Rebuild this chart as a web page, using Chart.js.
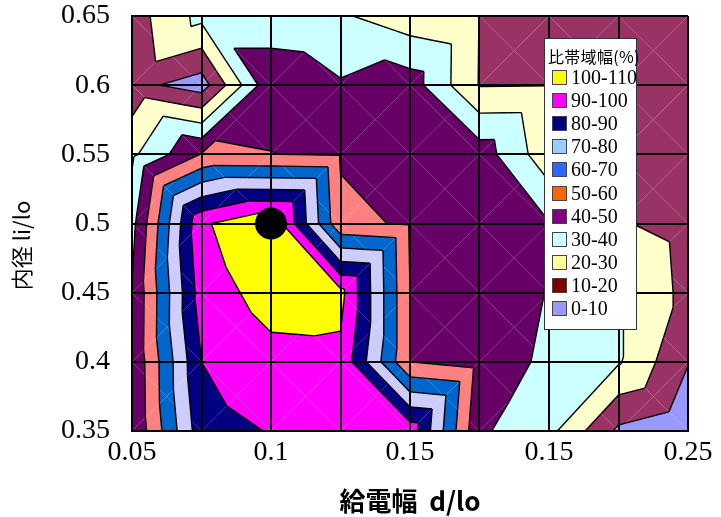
<!DOCTYPE html>
<html lang="ja">
<head>
<meta charset="UTF-8">
<title>比帯域幅 contour</title>
<script src="https://cdn.jsdelivr.net/npm/chart.js@4"></script>
<style>
  html, body { margin: 0; padding: 0; background: #fff; }
  #wrap { position: relative; width: 721px; height: 517px; }
  #legend {
    position: absolute; left: 544px; top: 38px; width: 93px; height: 292px;
    box-sizing: border-box; background: #fff; border: 1px solid #333;
  }
  #legend .ttl {
    position: absolute; left: 3px; top: 5px;
    font-family: "Noto Sans CJK JP", sans-serif; font-size: 16px; letter-spacing: 0.3px; color: #000; white-space: nowrap;
  }
  #legend .row { position: absolute; left: 7px; height: 22px; white-space: nowrap; }
  #legend .sw {
    position: absolute; left: 0; top: 3px; width: 15px; height: 15px;
    box-sizing: border-box; border: 1px solid #444;
  }
  #legend .lb {
    position: absolute; left: 19px; top: -1px;
    font-family: "Liberation Serif", "Times New Roman", serif; font-size: 20px; line-height: 22px; color: #000;
  }
</style>
</head>
<body>
<div id="wrap">
  <canvas id="chart" width="721" height="517"></canvas>
  <div id="legend"><div class="ttl">比帯域幅(%)</div></div>
</div>
<script>
// grid of the surface (d/lo across, li/lo up)
const xValues = [0.05, 0.075, 0.1, 0.125, 0.15, 0.175, 0.2, 0.225, 0.25];
const yValues = [0.35, 0.4, 0.45, 0.5, 0.55, 0.6, 0.65];

// fractional bandwidth (%) at each grid node, one row per li/lo value
const row035 = [40.4, 86, 90.5, 95, 96, 41.5, 33, 8, 2];
const row040 = [41, 90, 97, 97.6, 50, 45.7, 38, 31, 10.5];
const row045 = [40.5, 95, 104, 103, 50, 46, 39.5, 31, 17];
const row050 = [37, 98.5, 109, 52, 49, 46, 40.5, 21, 16];
const row055 = [28, 50.5, 50.1, 49.2, 46, 45.5, 23.4, 18, 15];
const row060 = [13.3, 5, 48, 41, 45, 19.5, 19.8, 15, 15];
const row065 = [15.4, 33, 33, 31.3, 24, 19.8, 15, 14, 14];
const zRows = [row035, row040, row045, row050, row055, row060, row065];

// contour bands
const bandEdges = [0, 10, 20, 30, 40, 50, 60, 70, 80, 90, 100, 110];
const bandLabels = ['0-10', '10-20', '20-30', '30-40', '40-50', '50-60', '60-70', '70-80', '80-90', '90-100', '100-110'];
const mapColors = ['#9999FF', '#993366', '#FFFFCC', '#CCFFFF', '#660066', '#FF8080', '#0066CC', '#CCCCFF', '#000080', '#FF00FF', '#FFFF00'];
const legendColors = ['#9999FF', '#800000', '#FFFF99', '#CCFFFF', '#800080', '#FF6600', '#3366FF', '#99CCFF', '#000080', '#FF00FF', '#FFFF00'];

const xTickLabels = ['0.05', '', '0.1', '', '0.15', '', '0.15', '', '0.25'];
const yTickLabels = ['0.35', '0.4', '0.45', '0.5', '0.55', '0.6', '0.65'];

// design point
const marker = [{ x: 0.1, y: 0.5 }];

// legend box (top row = highest band)
const legendEl = document.getElementById('legend');
for (let k = bandLabels.length - 1; k >= 0; k--) {
  const r = bandLabels.length - 1 - k;
  const row = document.createElement('div');
  row.className = 'row';
  row.style.top = (28 + r * 23.1) + 'px';
  row.innerHTML = '<span class="sw" style="background:' + legendColors[k] + '"></span><span class="lb">' + bandLabels[k] + '</span>';
  legendEl.appendChild(row);
}

// clip a polygon (points carry z) against z >= level or z <= level
function clipPoly(pts, level, keepAbove) {
  const out = [];
  for (let i = 0; i < pts.length; i++) {
    const a = pts[i], b = pts[(i + 1) % pts.length];
    const ina = keepAbove ? a.z >= level : a.z <= level;
    const inb = keepAbove ? b.z >= level : b.z <= level;
    if (ina) out.push(a);
    if (ina !== inb) {
      const t = (level - a.z) / (b.z - a.z);
      out.push({ x: a.x + t * (b.x - a.x), y: a.y + t * (b.y - a.y), z: level });
    }
  }
  return out;
}

// filled contour map, drawn under the grid lines
const contourPlugin = {
  id: 'contour',
  beforeDraw(chart) {
    const ctx = chart.ctx;
    const xs = chart.scales.x, ys = chart.scales.y;
    const node = (i, j) => ({ x: xs.getPixelForValue(xValues[i]), y: ys.getPixelForValue(yValues[j]), z: zRows[j][i] });

    // each cell split in four triangles around its centre
    const tris = [];
    for (let j = 0; j < yValues.length - 1; j++) {
      for (let i = 0; i < xValues.length - 1; i++) {
        const bl = node(i, j), br = node(i + 1, j), tl = node(i, j + 1), tr = node(i + 1, j + 1);
        const zc = Math.max((bl.z + tr.z) / 2, (tl.z + br.z) / 2);
        const c = { x: (bl.x + br.x) / 2, y: (bl.y + tl.y) / 2, z: zc };
        tris.push([bl, br, c], [br, tr, c], [tr, tl, c], [tl, bl, c]);
      }
    }

    ctx.save();
    tris.forEach(t => {
      for (let b = 0; b < mapColors.length; b++) {
        let poly = clipPoly(t, bandEdges[b], true);
        if (poly.length < 3) continue;
        poly = clipPoly(poly, bandEdges[b + 1], false);
        if (poly.length < 3) continue;
        ctx.beginPath();
        poly.forEach((p, k) => k ? ctx.lineTo(p.x, p.y) : ctx.moveTo(p.x, p.y));
        ctx.closePath();
        ctx.fillStyle = mapColors[b];
        ctx.fill();
      }
    });

    // band boundaries
    ctx.strokeStyle = '#000';
    ctx.lineWidth = 1.4;
    ctx.lineJoin = 'round';
    tris.forEach(t => {
      for (let k = 1; k < bandEdges.length - 1; k++) {
        const lv = bandEdges[k];
        const seg = [];
        for (let e = 0; e < 3; e++) {
          const a = t[e], b = t[(e + 1) % 3];
          if ((a.z < lv) !== (b.z < lv)) {
            const f = (lv - a.z) / (b.z - a.z);
            seg.push([a.x + f * (b.x - a.x), a.y + f * (b.y - a.y)]);
          }
        }
        if (seg.length === 2) {
          ctx.beginPath();
          ctx.moveTo(seg[0][0], seg[0][1]);
          ctx.lineTo(seg[1][0], seg[1][1]);
          ctx.stroke();
        }
      }
    });
    ctx.restore();
  }
};

const tickFont = { family: "'Liberation Serif', 'Times New Roman', serif", size: 28, lineHeight: 0.93 };

new Chart(document.getElementById('chart'), {
  type: 'scatter',
  data: {
    datasets: [{
      label: 'design point',
      data: marker,
      pointRadius: 16,
      pointHoverRadius: 16,
      pointBackgroundColor: '#000',
      pointBorderColor: '#000',
      pointBorderWidth: 0,
      clip: false
    }]
  },
  options: {
    responsive: false,
    animation: false,
    devicePixelRatio: 1,
    layout: { padding: { left: 0, right: 33, top: 13, bottom: 0 } },
    plugins: { legend: { display: false }, tooltip: { enabled: false } },
    scales: {
      x: {
        type: 'linear', min: 0.05, max: 0.25,
        afterBuildTicks: s => { s.ticks = xValues.map(v => ({ value: v })); },
        afterFit: s => { s.height = 86; },
        grid: { color: '#000', lineWidth: 2, drawTicks: true, tickLength: 9, tickColor: 'rgba(0,0,0,0)' },
        border: { color: '#000', width: 2 },
        ticks: {
          autoSkip: false, maxRotation: 0, padding: 0, color: '#000', font: tickFont,
          callback: (v, i) => xTickLabels[i]
        },
        title: {
          display: true, text: '給電幅  d/lo', color: '#000',
          font: { family: "'Noto Sans CJK JP', sans-serif", size: 26, weight: 'bold' },
          padding: { top: 0, bottom: 0 }
        }
      },
      y: {
        type: 'linear', min: 0.35, max: 0.65,
        afterBuildTicks: s => { s.ticks = yValues.map(v => ({ value: v })); },
        afterFit: s => { s.width = 132; },
        grid: { color: '#000', lineWidth: 2, drawTicks: true, tickLength: 22, tickColor: 'rgba(0,0,0,0)' },
        border: { color: '#000', width: 2 },
        ticks: {
          padding: 0, color: '#000', font: tickFont,
          callback: (v, i) => yTickLabels[i]
        },
        title: {
          display: true, text: '内径 li/lo\u3000\u3000', color: '#000',
          font: { family: "'Noto Sans CJK JP', sans-serif", size: 22 },
          padding: { top: 8, bottom: 0 }
        }
      }
    }
  },
  plugins: [contourPlugin]
});
</script>
</body>
</html>
